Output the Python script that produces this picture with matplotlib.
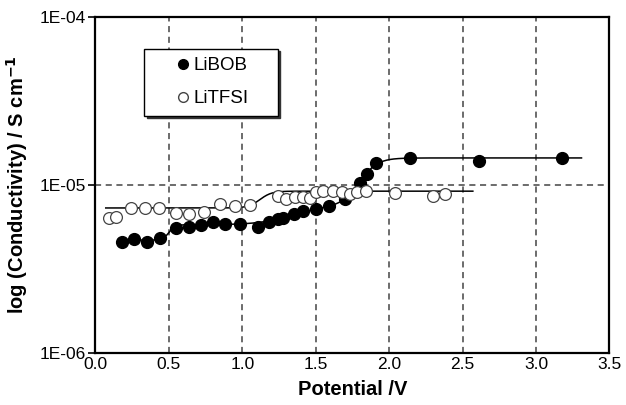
import numpy as np
import matplotlib
matplotlib.use('Agg')
import matplotlib.pyplot as plt

plt.rcParams['font.family'] = ['Liberation Sans', 'DejaVu Sans']

# LiBOB (filled circles)
bob_v = [0.18, 0.26, 0.35, 0.44, 0.55, 0.64, 0.72, 0.80, 0.88, 0.985, 1.11, 1.18,
         1.24, 1.28, 1.35, 1.41, 1.50, 1.59, 1.70, 1.80, 1.85, 1.91, 2.14, 2.61, 3.18]
bob_s = [4.59e-6, 4.76e-6, 4.61e-6, 4.83e-6, 5.53e-6, 5.63e-6, 5.79e-6, 6.03e-6,
         5.85e-6, 5.85e-6, 5.63e-6, 6.05e-6, 6.25e-6, 6.40e-6, 6.70e-6, 7.02e-6,
         7.18e-6, 7.50e-6, 8.22e-6, 1.03e-5, 1.17e-5, 1.35e-5, 1.45e-5, 1.39e-5, 1.45e-5]

# LiTFSI (open circles)
tfsi_v = [0.09, 0.14, 0.24, 0.34, 0.43, 0.55, 0.64, 0.74, 0.85, 0.95, 1.05, 1.24, 1.30,
          1.36, 1.41, 1.46, 1.50, 1.55, 1.62, 1.68, 1.73, 1.78, 1.84, 2.04, 2.30, 2.38]
tfsi_s = [6.40e-6, 6.49e-6, 7.33e-6, 7.33e-6, 7.27e-6, 6.85e-6, 6.76e-6, 6.92e-6,
          7.74e-6, 7.50e-6, 7.58e-6, 8.61e-6, 8.29e-6, 8.49e-6, 8.49e-6, 8.41e-6,
          9.13e-6, 9.21e-6, 9.21e-6, 9.13e-6, 8.81e-6, 9.13e-6, 9.21e-6, 9.00e-6,
          8.61e-6, 8.81e-6]

# fitted sigmoid steps in log10 space: (centre, width, height)
bob_base = np.log10(4.7e-6)
bob_steps = [(0.50, 0.02, 0.091), (1.35, 0.12, 0.117), (1.80, 0.06, 0.281)]
bob_range = (0.18, 3.31)
tfsi_base = np.log10(7.3e-6)
tfsi_steps = [(1.12, 0.04, 0.100)]
tfsi_range = (0.07, 2.57)


def fit_curve(base, steps, rng):
    x = np.linspace(rng[0], rng[1], 400)
    y = np.full_like(x, base)
    for c, w, h in steps:
        y += h / (1 + np.exp(-(x - c) / w))
    return x, 10 ** y


fig = plt.figure(figsize=(6.26, 4.05), dpi=100)
ax = fig.add_axes([0.1525, 0.1284, 0.821, 0.8296])

xb, yb = fit_curve(bob_base, bob_steps, bob_range)
xt, yt = fit_curve(tfsi_base, tfsi_steps, tfsi_range)
ax.plot(xb, yb, color='black', lw=1.1, zorder=2)
ax.plot(xt, yt, color='black', lw=1.1, zorder=2)

ax.plot(bob_v, bob_s, 'o', ms=8.5, mfc='black', mec='black', ls='none', zorder=3)
ax.plot(tfsi_v, tfsi_s, 'o', ms=8.5, mfc='white', mec='#444444', mew=0.9,
        ls='none', zorder=3)

ax.set_yscale('log')
ax.set_xlim(0, 3.5)
ax.set_ylim(1e-6, 1e-4)
ax.set_xticks(np.arange(0, 3.51, 0.5))
ax.set_xticklabels([f'{v:.1f}' for v in np.arange(0, 3.51, 0.5)])
ax.set_yticks([1e-6, 1e-5, 1e-4])
ax.set_yticklabels(['1E-06', '1E-05', '1E-04'])
ax.yaxis.set_minor_locator(matplotlib.ticker.NullLocator())
ax.tick_params(axis='x', length=0, pad=3, labelsize=12.5)
ax.tick_params(axis='y', length=5, width=1.2, direction='out', pad=2, labelsize=12.5)

for v in np.arange(0.5, 3.49, 0.5):
    ax.axvline(v, color='#444444', lw=1.1, ls=(0, (4, 3)), zorder=1)
ax.axhline(1e-5, color='#444444', lw=1.1, ls=(0, (4, 3)), zorder=1)

for s in ax.spines.values():
    s.set_linewidth(1.6)

ax.set_xlabel('Potential /V', fontsize=14.5, fontweight='bold', labelpad=6)
ax.set_ylabel('log (Conductivity) / S cm$^{\\mathbf{-1}}$', fontsize=14.5,
              fontweight='bold', labelpad=7)

# legend with shadowed box
h1, = ax.plot([], [], 'o', ms=7, mfc='black', mec='black', ls='none')
h2, = ax.plot([], [], 'o', ms=7, mfc='white', mec='#444444', ls='none')
leg = ax.legend([h1, h2], ['LiBOB', 'LiTFSI'], loc='upper left',
                bbox_to_anchor=(0.095, 0.7, 0.26, 0.205), mode='expand',
                fontsize=13.5, frameon=True, fancybox=False,
                shadow={'color': '#333333', 'alpha': 1, 'ox': 1.8, 'oy': -1.8},
                edgecolor='black', borderpad=0.45, labelspacing=0.83,
                handletextpad=-1.1, borderaxespad=0, handlelength=3.25)
leg.get_frame().set_linewidth(1.0)
leg.set_zorder(5)

fig.savefig('out.png', dpi=100)
